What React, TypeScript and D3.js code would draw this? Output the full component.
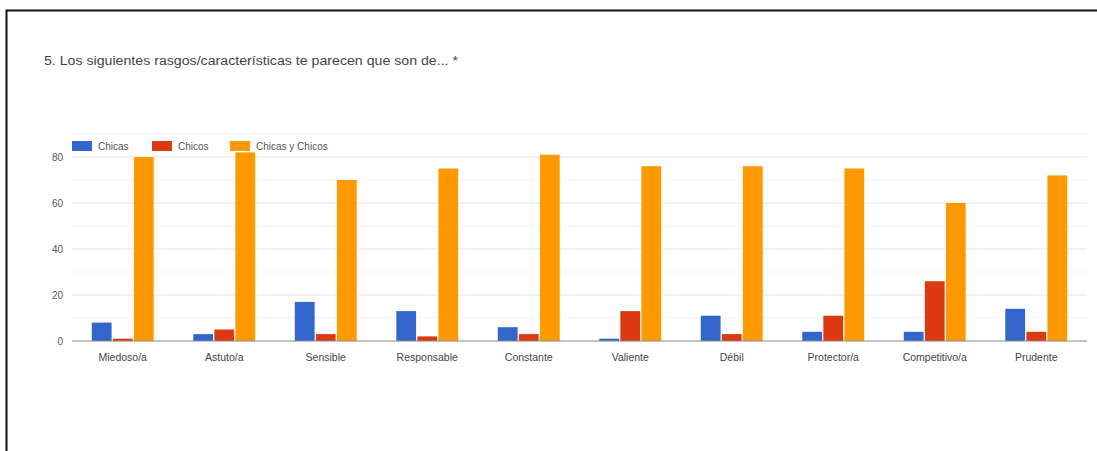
import React from "react";
import * as d3 from "d3";

const categories = ["Miedoso/a", "Astuto/a", "Sensible", "Responsable", "Constante", "Valiente", "Débil", "Protector/a", "Competitivo/a", "Prudente"];
const seriesNames = ["Chicas", "Chicos", "Chicas y Chicos"];
const chicas = [8, 3, 17, 13, 6, 1, 11, 4, 4, 14];
const chicos = [1, 5, 3, 2, 3, 13, 3, 11, 26, 4];
const ambos = [80, 82, 70, 75, 81, 76, 76, 75, 60, 72];
const colors = ["#3366cc", "#dc3912", "#ff9900"];
const yTicks = [0, 20, 40, 60, 80];
const minorTicks = [10, 30, 50, 70, 90];
const title = "5. Los siguientes rasgos/características te parecen que son de... *";

const W = 1097, H = 451;
const left = 72, right = 1087, base = 341;

export default function App() {
  const series = [chicas, chicos, ambos];
  const x = d3.scaleBand().domain(categories).range([left, right]).paddingInner(0.39).paddingOuter(0.195);
  const xs = d3.scaleBand().domain(seriesNames).range([0, x.bandwidth()]).paddingInner(0.06);
  const y = d3.scaleLinear().domain([0, 80]).range([base, 157]);
  const font = "Arial, 'Liberation Sans', sans-serif";
  return (
    <svg width={W} height={H} style={{ position: "absolute", left: 0, top: 0, background: "#fff" }}>
      <rect x={0} y={0} width={W} height={H} fill="#fff" />
      <path d={`M6.5,${H} V10.5 H${W}`} fill="none" stroke="#111" strokeWidth={2} />
      <text x={44} y={65} fontFamily={font} fontSize={12.5} fill="#444" textLength={414} lengthAdjust="spacingAndGlyphs">{title}</text>
      {minorTicks.map(t => (
        <line key={"m" + t} x1={left} x2={right} y1={y(t)} y2={y(t)} stroke="#f3f3f3" />
      ))}
      {yTicks.filter(t => t > 0).map(t => (
        <line key={"g" + t} x1={left} x2={right} y1={y(t)} y2={y(t)} stroke="#e3e3e3" />
      ))}
      {yTicks.map(t => (
        <text key={"t" + t} x={63} y={y(t) + 3.5} textAnchor="end" fontFamily={font} fontSize={10} fill="#555">{t}</text>
      ))}
      {categories.map((c, i) => (
        <g key={c}>
          {series.map((s, j) => (
            <rect key={j} x={(x(c) as number) + (xs(seriesNames[j]) as number)} width={xs.bandwidth()} y={y(s[i])} height={base - y(s[i])} fill={colors[j]} />
          ))}
          <text x={(x(c) as number) + x.bandwidth() / 2} y={361} textAnchor="middle" fontFamily={font} fontSize={10.5} fill="#444">{c}</text>
        </g>
      ))}
      <line x1={left} x2={right} y1={base} y2={base} stroke="#888" strokeWidth={1.2} />
      {seriesNames.map((n, j) => {
        const lx = [72, 152, 230][j];
        return (
          <g key={n}>
            <rect x={lx} y={141} width={20} height={10} fill={colors[j]} />
            <text x={lx + 26} y={149.5} fontFamily={font} fontSize={10} fill="#555">{n}</text>
          </g>
        );
      })}
    </svg>
  );
}
